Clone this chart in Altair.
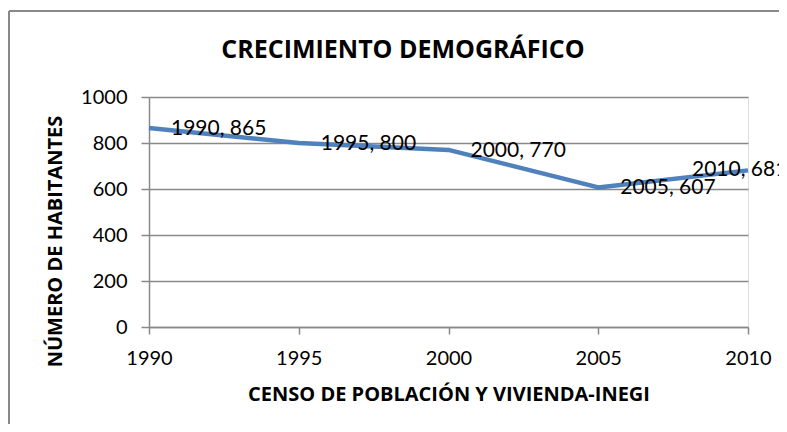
import altair as alt
import pandas as pd

years = [1990, 1995, 2000, 2005, 2010]
habitantes = [865, 800, 770, 607, 681]
labels = ["1990, 865", "1995, 800", "2000, 770", "2005, 607", "2010, 681"]
y_ticks = [0, 200, 400, 600, 800, 1000]
x_ticks = [1990, 1995, 2000, 2005, 2010]
chart_title = "CRECIMIENTO DEMOGRÁFICO"

df = pd.DataFrame({"anio": years, "hab": habitantes, "label": labels})

FONT = "Lato"
BOLD_FONT = "Open Sans"
GRAY = "#898989"
BLUE = "#4F81BD"

x_enc = alt.X(
    "anio:Q",
    scale=alt.Scale(domain=[1990, 2010], nice=False, zero=False),
    axis=alt.Axis(
        values=x_ticks, format="d", title="CENSO DE POBLACIÓN Y VIVIENDA-INEGI",
        grid=False, domainColor=GRAY, domainWidth=1.5, tickColor=GRAY, tickWidth=1.5,
        tickSize=7, labelPadding=14, labelFontSize=20, labelFont=FONT, labelColor="#000000",
        titleFont=BOLD_FONT, titleFontSize=20, titleFontWeight="bold", titleColor="#000000",
        titlePadding=16, labelFlush=False,
    ),
)
y_enc = alt.Y(
    "hab:Q",
    scale=alt.Scale(domain=[0, 1000], nice=False),
    axis=alt.Axis(
        values=y_ticks, format="d", title="NÚMERO DE HABITANTES",
        grid=True, gridColor=GRAY, gridWidth=1.5,
        domainColor=GRAY, domainWidth=1.5, tickColor=GRAY, tickWidth=1.5,
        tickSize=8, labelPadding=14, labelFontSize=20, labelFont=FONT, labelColor="#000000",
        titleFont=BOLD_FONT, titleFontSize=20, titleFontWeight="bold", titleColor="#000000",
        titleAngle=270, titleX=-94, titleY=144, titleAlign="center", titleBaseline="middle",
        labelFlush=False,
    ),
)

base = alt.Chart(df)

line = base.mark_line(color=BLUE, strokeWidth=4.5, strokeJoin="round").encode(x=x_enc, y=y_enc)

text_common = dict(align="left", baseline="middle", font=FONT, fontSize=21, color="#000000")
text_main = base.transform_filter(alt.datum.anio < 2010).mark_text(dx=22, dy=1, **text_common).encode(
    x="anio:Q", y="hab:Q", text="label:N"
)
text_last = base.transform_filter(alt.datum.anio == 2010).mark_text(dx=-56, dy=0, **text_common).encode(
    x="anio:Q", y="hab:Q", text="label:N"
)

one = pd.DataFrame({"t": [chart_title]})
title_mark = alt.Chart(one).mark_text(
    font=BOLD_FONT, fontSize=25, fontWeight="bold", color="#000000", align="center", baseline="middle"
).encode(text="t:N", x=alt.value(254), y=alt.value(-47))

border_left = alt.Chart(one).mark_rule(color=GRAY, strokeWidth=2).encode(
    x=alt.value(-140), y=alt.value(-86), y2=alt.value(400)
)
border_top = alt.Chart(one).mark_rule(color=GRAY, strokeWidth=2).encode(
    x=alt.value(-140), x2=alt.value(700), y=alt.value(-86)
)

chart = alt.layer(border_left, border_top, title_mark, line, text_main, text_last).properties(
    width=599,
    height=230,
    autosize=alt.AutoSizeParams(type="none"),
    padding={"left": 141, "top": 89, "right": 31, "bottom": 97},
).configure_view(stroke=None).configure(background="white")

chart.save("out.html", embed_options={"renderer": "svg", "actions": False})
